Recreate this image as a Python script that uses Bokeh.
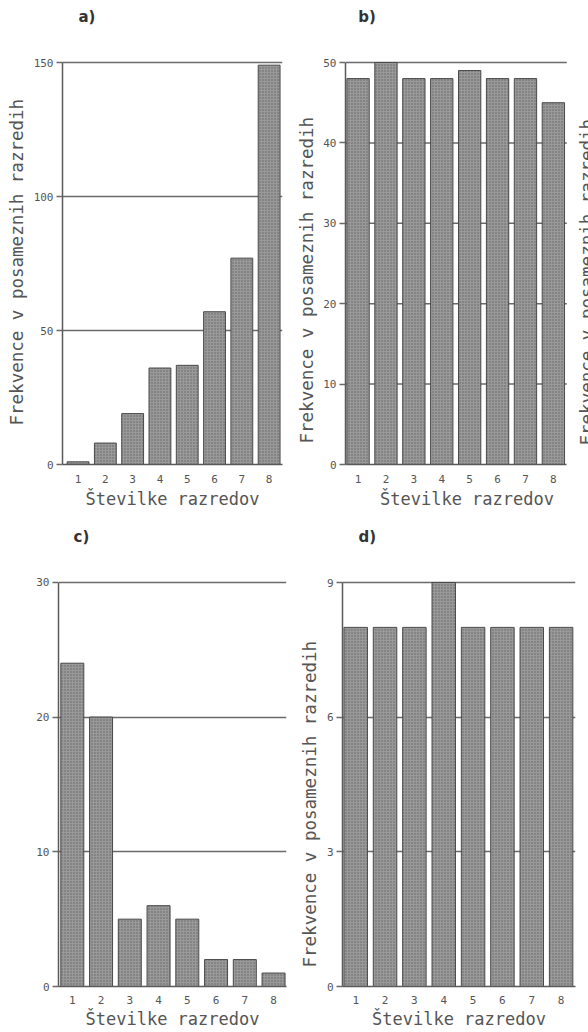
import math
from bokeh.plotting import figure
from bokeh.layouts import column, row
from bokeh.models import Range1d, FixedTicker, Label, ColumnDataSource, Title
from bokeh.embed import file_html
from bokeh.resources import INLINE

# ---- data ----
razredi = [1, 2, 3, 4, 5, 6, 7, 8]
frekvence_a = [1, 8, 19, 36, 37, 57, 77, 149]
frekvence_b = [48, 50, 48, 48, 49, 48, 48, 45]
frekvence_c = [24, 20, 5, 6, 5, 2, 2, 1]
frekvence_d = [8, 8, 8, 9, 8, 8, 8, 8]
yticks_a = [0, 50, 100, 150]
yticks_b = [0, 10, 20, 30, 40, 50]
yticks_c = [0, 10, 20, 30]
yticks_d = [0, 3, 6, 9]
x_label = "Številke razredov"
y_label = "Frekvence v posameznih razredih"

MONO = "DejaVu Sans Mono"
TXT = "#555555"
LINE = "#5a5a5a"
GRID = "#6a6a6a"


def panel(letter, vals, yticks, ylabel, g):
    w, h = g["w"], g["h"]
    fl, fr, fb = g["fl"], g["fr"], g["fb"]          # frame left/right/bottom (px)
    pr = g["pr"]                                    # right end of the plotting area (px)
    x0, x1 = g["xr"]                                # x values at fl and pr
    ytop, ytop_px = yticks[-1], g["ytop_px"]
    ppx = (pr - fl) / (x1 - x0)
    ppy = (fb - ytop_px) / ytop
    x_end = x0 + (fr - fl) / ppx
    y_end = fb / ppy

    p = figure(width=w, height=h, title=None,
               x_range=Range1d(x0, x_end), y_range=Range1d(0, y_end),
               output_backend="svg", toolbar_location=None,
               min_border_left=fl, min_border_right=w - fr,
               min_border_top=0, min_border_bottom=h - fb)
    p.outline_line_color = None
    p.background_fill_color = "white"
    p.border_fill_color = "white"

    # grid lines
    p.xgrid.visible = False
    if fr > pr + 1:
        p.ygrid.visible = False
        p.segment(x0=[x0] * (len(yticks) - 1), x1=[x1] * (len(yticks) - 1),
                  y0=yticks[1:], y1=yticks[1:], line_color=GRID,
                  line_width=1.5, level="underlay")
    else:
        p.ygrid.grid_line_color = GRID
        p.ygrid.grid_line_width = 1.5

    src = ColumnDataSource(dict(x=razredi, top=vals))
    p.vbar(x="x", top="top", bottom=0, width=0.8, source=src,
           fill_color="#999999", line_color="#4a4a4a", line_width=1,
           hatch_pattern="dot", hatch_color="#555555", hatch_scale=3,
           hatch_weight=1, hatch_alpha=0.8)

    # panel letter
    p.add_layout(Label(x=x0 + g["ldx"] / ppx, y=y_end - g["ldy"] / ppy,
                       text=letter, text_baseline="middle", text_align="left",
                       text_font="DejaVu Sans", text_font_size="15px",
                       text_font_style="bold", text_color="#333333"))

    xa = p.xaxis[0]
    xa.bounds = (x0, x1)
    xa.ticker = FixedTicker(ticks=razredi)
    xa.axis_line_color = LINE
    xa.axis_line_width = 1.5
    xa.major_tick_line_color = None
    xa.minor_tick_line_color = None
    xa.major_tick_out = 0
    xa.major_tick_in = 0
    xa.major_label_standoff = g["tstand"]
    xa.major_label_text_font = MONO
    xa.major_label_text_font_size = "11px"
    xa.major_label_text_color = TXT
    xa.axis_label = x_label
    xa.axis_label_standoff = g["lstand"]
    xa.axis_label_text_font = MONO
    xa.axis_label_text_font_size = "17px"
    xa.axis_label_text_font_style = "normal"
    xa.axis_label_text_color = TXT

    ya = p.yaxis[0]
    ya.bounds = (0, ytop)
    ya.ticker = FixedTicker(ticks=yticks)
    ya.axis_line_color = LINE
    ya.axis_line_width = 1.5
    ya.major_tick_line_color = GRID
    ya.major_tick_line_width = 1.5
    ya.major_tick_out = 6
    ya.major_tick_in = 0
    ya.minor_tick_line_color = None
    ya.major_label_standoff = 3
    ya.major_label_text_font = MONO
    ya.major_label_text_font_size = "11px"
    ya.major_label_text_color = TXT
    if ylabel:
        p.add_layout(Title(text=ylabel, align="left", offset=g["yoff"],
                           vertical_align="bottom", standoff=g["ystand"],
                           text_font=MONO, text_font_size="17.5px",
                           text_font_style="normal", text_color=TXT), "left")
    return p, ppx, ppy, x0


geo_a = dict(w=290, h=520, fl=61, fr=282, pr=282, fb=464, xr=(0.43, 8.49),
             ytop_px=62, ldx=16, ldy=16, tstand=10, lstand=3, yoff=39, ystand=8)
geo_b = dict(w=298, h=520, fl=52, fr=298, pr=276, fb=464, xr=(0.55, 8.48),
             ytop_px=62, ldx=13, ldy=16, tstand=10, lstand=3, yoff=21, ystand=8)
geo_c = dict(w=290, h=512, fl=58, fr=286, pr=286, fb=467, xr=(0.52, 8.45),
             ytop_px=62, ldx=15, ldy=17, tstand=9, lstand=2, yoff=0, ystand=0)
geo_d = dict(w=298, h=512, fl=52, fr=285, pr=285, fb=466, xr=(0.55, 8.49),
             ytop_px=62, ldx=16, ldy=16, tstand=9, lstand=2, yoff=19, ystand=7)

pa, _, _, _ = panel("a)", frekvence_a, yticks_a, y_label, geo_a)
pb, ppx_b, ppy_b, x0_b = panel("b)", frekvence_b, yticks_b, y_label, geo_b)
pc, _, _, _ = panel("c)", frekvence_c, yticks_c, None, geo_c)
pd_, _, _, _ = panel("d)", frekvence_d, yticks_d, y_label, geo_d)

# axis title of the neighbouring panel, cut off by the right edge of the scan
pb.add_layout(Label(x=x0_b + 244 / ppx_b, y=19 / ppy_b, text=y_label,
                    angle=math.pi / 2, text_align="left",
                    text_baseline="middle", text_font=MONO,
                    text_font_size="17.5px", text_color=TXT))

layout = column(row(pa, pb), row(pc, pd_))
open("out.html", "w").write(file_html(layout, INLINE))
